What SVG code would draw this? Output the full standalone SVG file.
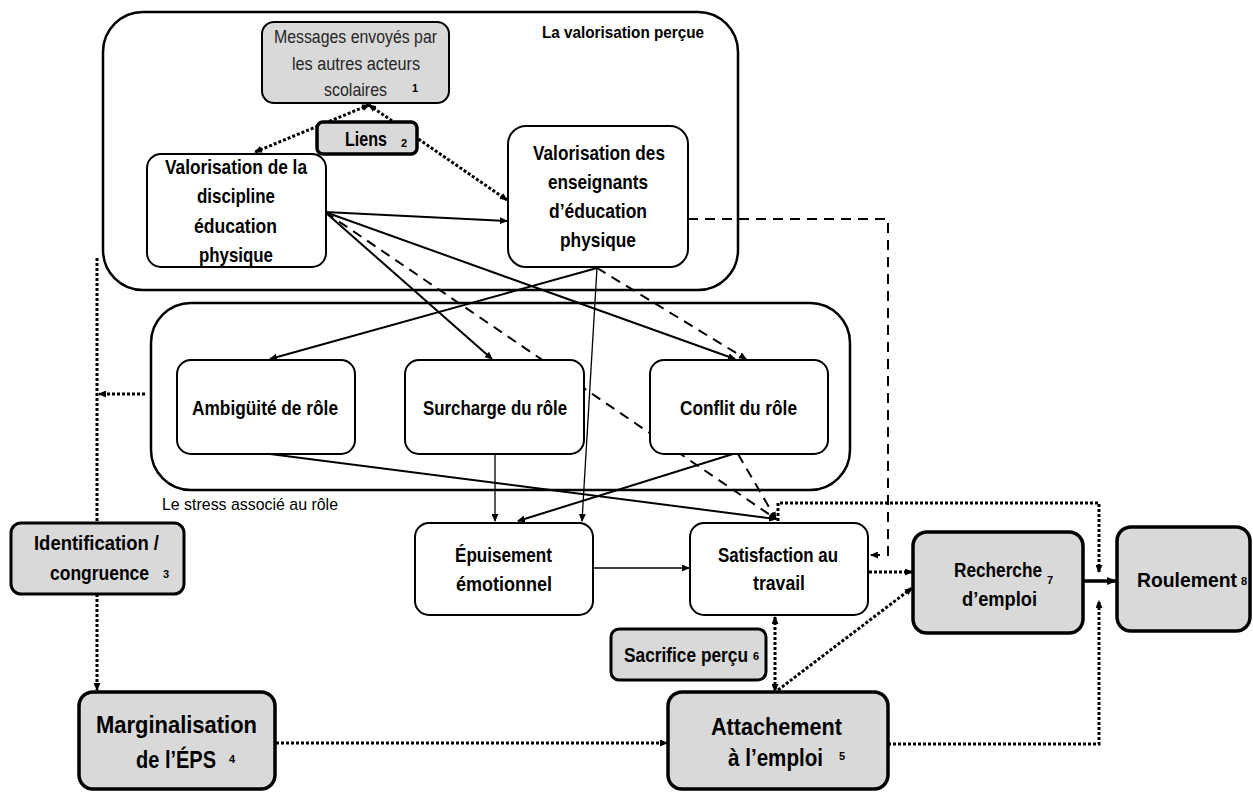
<svg xmlns="http://www.w3.org/2000/svg" width="1253" height="793" viewBox="0 0 1253 793">
<defs>
<marker id="a" markerUnits="userSpaceOnUse" markerWidth="10" markerHeight="8" refX="9" refY="4" orient="auto-start-reverse"><path d="M0,0 L10,4 L0,8 z" fill="#000"/></marker>
<marker id="as" markerUnits="userSpaceOnUse" markerWidth="8" markerHeight="7" refX="7" refY="3.5" orient="auto-start-reverse"><path d="M0,0 L8,3.5 L0,7 z" fill="#000"/></marker>
</defs>
<style>
.region{fill:none;stroke:#000;stroke-width:2.5}
.node{fill:#fff;stroke:#000;stroke-width:2}
.gray{fill:#d9d9d9;stroke:#000;stroke-width:3}
.thick{stroke-width:3.5}
text{font-family:"Liberation Sans",Arial,sans-serif;font-weight:bold;fill:#000;font-size:21px}
.reg{font-weight:normal}
.n{font-size:11px;font-weight:bold}
.c{fill:none;stroke:#000;stroke-width:2}
.thin{stroke-width:1.3}
.dash{stroke-dasharray:10 7}
.dot{stroke-width:3;stroke-dasharray:3 2}
</style>
<rect width="1253" height="793" fill="#fff"/>

<g id="region-valorisation">
<rect class="region" x="103" y="12" width="635" height="278" rx="40"/>
<text x="542" y="38" style="font-size:17px" textLength="162" lengthAdjust="spacingAndGlyphs">La valorisation perçue</text>
</g>
<g id="region-stress">
<rect class="region" x="151" y="303" width="699" height="187" rx="40"/>
<text class="reg" x="162" y="510" style="font-size:17px" textLength="176" lengthAdjust="spacingAndGlyphs">Le stress associé au rôle</text>
</g>

<g id="connectors">
<line class="c dot" x1="369" y1="105" x2="255" y2="152" marker-start="url(#as)" marker-end="url(#as)"/>
<line class="c dot" x1="369" y1="105" x2="507" y2="200" marker-start="url(#as)" marker-end="url(#as)"/>
<line class="c" x1="325" y1="212" x2="507" y2="221" marker-end="url(#as)"/>
<line class="c" x1="325" y1="212" x2="492" y2="359" marker-end="url(#as)"/>
<line class="c" x1="325" y1="212" x2="735" y2="359" marker-end="url(#as)"/>
<line class="c dash" x1="325" y1="212" x2="776" y2="519" marker-end="url(#as)"/>
<line class="c" x1="597" y1="268" x2="270" y2="359" marker-end="url(#as)"/>
<line class="c thin" x1="597" y1="268" x2="582" y2="521" marker-end="url(#as)"/>
<line class="c dash" x1="597" y1="268" x2="746" y2="359" marker-end="url(#as)"/>
<path class="c dash" d="M688,219 H888 V555 H871" marker-end="url(#as)"/>
<line class="c" x1="270" y1="454" x2="776" y2="519" marker-end="url(#as)"/>
<line class="c thin" x1="495" y1="454" x2="495" y2="521" marker-end="url(#as)"/>
<line class="c" x1="733" y1="454" x2="518" y2="521" marker-end="url(#as)"/>
<line class="c dash" x1="738" y1="454" x2="776" y2="519" marker-end="url(#as)"/>
<line class="c thin" x1="593" y1="568" x2="689" y2="568" marker-end="url(#as)"/>
<line class="c dot" x1="145" y1="394" x2="99" y2="394" marker-end="url(#as)"/>
<line class="c dot" x1="97" y1="258" x2="97" y2="523"/>
<line class="c dot" x1="97" y1="594" x2="97" y2="690" marker-end="url(#as)"/>
<line class="c dot" x1="276" y1="743" x2="667" y2="743" marker-end="url(#as)"/>
<line class="c dot" x1="775" y1="617" x2="775" y2="691" marker-start="url(#as)" marker-end="url(#as)"/>
<line class="c dot" x1="869" y1="572" x2="912" y2="572" marker-end="url(#as)"/>
<line class="c dot" x1="778" y1="690" x2="912" y2="588" marker-end="url(#as)"/>
<path class="c dot" d="M778,521 V503 H1099 V572" marker-end="url(#as)"/>
<path class="c dot" d="M888,744 H1099 V601" marker-end="url(#as)"/>
<line class="c" style="stroke-width:3.5" x1="1083" y1="581" x2="1116" y2="581" marker-end="url(#a)"/>
</g>

<g id="messages">
<rect class="gray" style="stroke-width:2" x="262" y="22" width="187" height="81" rx="12"/>
<text class="reg" x="274" y="43" style="font-size:18px;fill:#262626" textLength="163" lengthAdjust="spacingAndGlyphs">Messages envoyés par</text>
<text class="reg" x="292" y="70" style="font-size:18px;fill:#262626" textLength="128" lengthAdjust="spacingAndGlyphs">les autres acteurs</text>
<text class="reg" transform="translate(324 96) scale(0.89 1)" x="0" y="0" style="font-size:18px;fill:#262626" textLength="70.8" lengthAdjust="spacingAndGlyphs">scolaires</text>
<text class="n" x="412" y="92">1</text>
</g>
<g id="liens">
<rect class="gray thick" x="317" y="122" width="100" height="32" rx="6"/>
<text transform="translate(345 146) scale(0.77 1)" x="0" y="0" textLength="54.5" lengthAdjust="spacingAndGlyphs">Liens</text>
<text class="n" x="401" y="147">2</text>
</g>
<g id="valorisation-discipline">
<rect class="node" x="147" y="154" width="179" height="113" rx="14"/>
<text x="165" y="174" textLength="142" lengthAdjust="spacingAndGlyphs">Valorisation de la</text>
<text x="197" y="203" textLength="78" lengthAdjust="spacingAndGlyphs">discipline</text>
<text x="194" y="233" textLength="83" lengthAdjust="spacingAndGlyphs">éducation</text>
<text x="199" y="262" textLength="74" lengthAdjust="spacingAndGlyphs">physique</text>
</g>
<g id="valorisation-enseignants">
<rect class="node" x="508" y="126" width="180" height="141" rx="18"/>
<text x="533" y="160" textLength="132" lengthAdjust="spacingAndGlyphs">Valorisation des</text>
<text x="548" y="189" textLength="100" lengthAdjust="spacingAndGlyphs">enseignants</text>
<text x="549" y="218" textLength="98" lengthAdjust="spacingAndGlyphs">d’éducation</text>
<text x="560" y="247" textLength="76" lengthAdjust="spacingAndGlyphs">physique</text>
</g>
<g id="ambiguite">
<rect class="node" x="177" y="360" width="178" height="94" rx="14"/>
<text x="192" y="415" textLength="146" lengthAdjust="spacingAndGlyphs">Ambigüité de rôle</text>
</g>
<g id="surcharge">
<rect class="node" x="405" y="360" width="179" height="94" rx="14"/>
<text x="423" y="415" textLength="144" lengthAdjust="spacingAndGlyphs">Surcharge du rôle</text>
</g>
<g id="conflit">
<rect class="node" x="650" y="360" width="178" height="94" rx="14"/>
<text x="680" y="415" textLength="117" lengthAdjust="spacingAndGlyphs">Conflit du rôle</text>
</g>
<g id="identification">
<rect class="gray" x="11" y="523" width="173" height="71" rx="10"/>
<text x="34" y="550" textLength="125" lengthAdjust="spacingAndGlyphs">Identification /</text>
<text transform="translate(50 580) scale(0.83 1)" x="0" y="0" textLength="119.3" lengthAdjust="spacingAndGlyphs">congruence</text>
<text class="n" x="163" y="578">3</text>
</g>
<g id="marginalisation">
<rect class="gray thick" x="79" y="692" width="196" height="97" rx="14"/>
<text x="96" y="733" style="font-size:24px" textLength="161" lengthAdjust="spacingAndGlyphs">Marginalisation</text>
<text transform="translate(136 768) scale(0.83 1)" x="0" y="0" style="font-size:24px" textLength="96.4" lengthAdjust="spacingAndGlyphs">de l’ÉPS</text>
<text class="n" x="229" y="763">4</text>
</g>
<g id="epuisement">
<rect class="node" x="415" y="523" width="178" height="92" rx="14"/>
<text x="455" y="562" textLength="97" lengthAdjust="spacingAndGlyphs">Épuisement</text>
<text x="456" y="591" textLength="96" lengthAdjust="spacingAndGlyphs">émotionnel</text>
</g>
<g id="satisfaction">
<rect class="node" x="690" y="523" width="178" height="92" rx="14"/>
<text x="718" y="562" textLength="120" lengthAdjust="spacingAndGlyphs">Satisfaction au</text>
<text x="753" y="590" textLength="52" lengthAdjust="spacingAndGlyphs">travail</text>
</g>
<g id="sacrifice">
<rect class="gray" x="611" y="629" width="155" height="51" rx="8"/>
<text transform="translate(624 662) scale(0.86 1)" x="0" y="0" style="font-size:20px" textLength="144.2" lengthAdjust="spacingAndGlyphs">Sacrifice perçu</text>
<text class="n" x="753" y="660">6</text>
</g>
<g id="attachement">
<rect class="gray thick" x="668" y="692" width="220" height="97" rx="14"/>
<text x="711" y="735" style="font-size:24px" textLength="131" lengthAdjust="spacingAndGlyphs">Attachement</text>
<text transform="translate(728 766) scale(0.86 1)" x="0" y="0" style="font-size:24px" textLength="110.5" lengthAdjust="spacingAndGlyphs">à l’emploi</text>
<text class="n" x="839" y="760">5</text>
</g>
<g id="recherche">
<rect class="gray thick" x="913" y="532" width="170" height="101" rx="14"/>
<text transform="translate(954 577) scale(0.82 1)" x="0" y="0" textLength="107.3" lengthAdjust="spacingAndGlyphs">Recherche</text>
<text class="n" x="1047" y="584">7</text>
<text x="962" y="606" textLength="75" lengthAdjust="spacingAndGlyphs">d’emploi</text>
</g>
<g id="roulement">
<rect class="gray thick" x="1117" y="527" width="133" height="104" rx="14"/>
<text transform="translate(1137 587) scale(0.92 1)" x="0" y="0" textLength="108.7" lengthAdjust="spacingAndGlyphs">Roulement</text>
<text class="n" x="1241" y="585">8</text>
</g>
</svg>
